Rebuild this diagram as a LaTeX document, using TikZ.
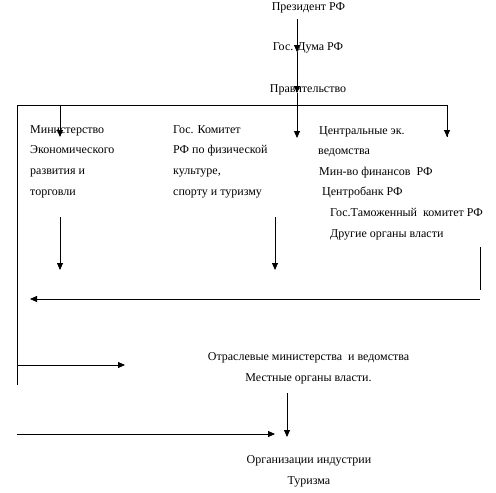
\documentclass[tikz,border=0pt]{standalone}
\usepackage{fontspec}
\setmainfont{Liberation Serif}
\usetikzlibrary{arrows.meta}

\begin{document}
\begin{tikzpicture}[x=1pt, y=-1pt,
txtnode/.style={font=\fontsize{12}{20.6}\selectfont, inner sep=0pt},
arr/.style={-{Triangle[length=7pt, width=6pt]}, line width=0.8pt},
bus/.style={line width=0.8pt},
]
\useasboundingbox (0,0) rectangle (496,493);

%Nodes (base = last line)
\node[txtnode, anchor=base] (pres) at (308.5,10) {Президент РФ};
\node[txtnode, anchor=base] (duma) at (308,50) {Гос. Дума РФ};
\node[txtnode, anchor=base] (gov)  at (308,92) {Правительство};
\node[txtnode, anchor=base west, align=left] (mer) at (30,195)
  {Министерство\\Экономического\\развития и\\торговли};
\node[txtnode, anchor=base west, align=left] (kom) at (173,195)
  {Гос. Комитет\\РФ по физической\\культуре,\\спорту и туризму};
\node[txtnode, anchor=base west, align=left] (ved) at (319,237)
  {Центральные эк.\\\hspace*{-1pt}ведомства\\Мин-во финансов\ \ РФ\\
   \hspace*{3pt}Центробанк РФ\\\hspace*{11pt}Гос.Таможенный\ \ комитет РФ\\
   \hspace*{11pt}Другие органы власти};
\node[txtnode, anchor=base, align=center] (otr) at (308.5,381)
  {Отраслевые министерства\ \ и ведомства\\Местные органы власти.};
\node[txtnode, anchor=base, align=center] (org) at (309,484)
  {Организации индустрии\\Туризма};

%Points
\coordinate (v0) at (297,19);
\coordinate (v1) at (297,52);
\coordinate (v2) at (297,93);
\coordinate (v3) at (297,138);
\coordinate (bl) at (17,105);
\coordinate (br) at (447,105);
\coordinate (bm) at (60,105);
\coordinate (merin) at (60,137);
\coordinate (vedin) at (447,137);
\coordinate (lb) at (17,385);
\coordinate (merout) at (60,217);
\coordinate (merend) at (60,270);
\coordinate (komout) at (275,217);
\coordinate (komend) at (275,270);
\coordinate (rt) at (480,247);
\coordinate (rb) at (480,290);
\coordinate (back0) at (480,299);
\coordinate (back1) at (30,299);
\coordinate (otr0) at (17,365);
\coordinate (otr1) at (125,365);
\coordinate (org0) at (287,393);
\coordinate (org1) at (287,437);
\coordinate (low0) at (17,434);
\coordinate (low1) at (275,434);

%Lines
\draw[arr] (v0) -- (v1);
\draw[arr] (v1) -- (v2);
\draw[arr] (v2) -- (v3);
\draw[bus] (lb) -- (bl) -- (br) -- (vedin);
\draw[arr] (br) -- (vedin);
\draw[arr] (bm) -- (merin);
\draw[arr] (merout) -- (merend);
\draw[arr] (komout) -- (komend);
\draw[bus] (rt) -- (rb);
\draw[arr] (back0) -- (back1);
\draw[arr] (otr0) -- (otr1);
\draw[arr] (org0) -- (org1);
\draw[arr] (low0) -- (low1);
\end{tikzpicture}
\end{document}
